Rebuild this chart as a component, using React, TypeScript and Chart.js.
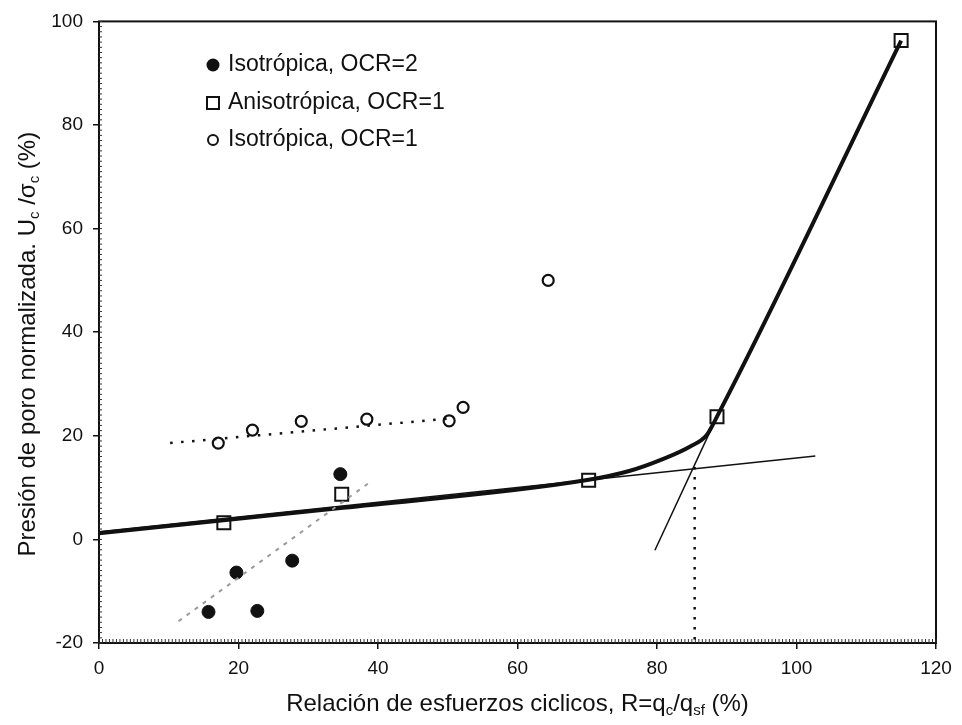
import React, { useEffect, useRef } from 'react';
import { Chart, registerables } from 'chart.js';
Chart.register(...registerables);

// ---- data ----
const isoOcr2X = [15.7, 19.7, 22.7, 27.7, 34.6];
const isoOcr2Y = [-14.0, -6.4, -13.8, -4.1, 12.6];
const anisoX = [17.9, 34.8, 70.2, 88.6, 115.0];
const anisoY = [3.2, 8.7, 11.4, 23.7, 96.3];
const isoOcr1X = [17.1, 22.0, 29.0, 38.4, 50.2, 52.2, 64.4];
const isoOcr1Y = [18.6, 21.1, 22.8, 23.2, 22.9, 25.5, 50.0];
const curveX = [0, 35, 70.2, 76, 81, 84.7, 87.1, 88.6, 115];
const curveY = [1.2, 6.1, 11.5, 13.2, 15.6, 17.9, 20.1, 23.7, 96.3];
const baseLineX = [0, 102.7];
const baseLineY = [1.5, 16.1];
const steepLineX = [79.7, 88.6];
const steepLineY = [-2.1, 23.7];
const thresholdX = [85.4, 85.4];
const thresholdY = [14.0, -20];
const ocr1TrendX = [10.2, 50];
const ocr1TrendY = [18.6, 23.3];
const ocr2TrendX = [11.4, 39.2];
const ocr2TrendY = [-15.8, 11.4];
const xMin = 0, xMax = 120, xStep = 20;
const yMin = -20, yMax = 100, yStep = 20;
const legendLabels = ['Isotrópica, OCR=2', 'Anisotrópica, OCR=1', 'Isotrópica, OCR=1'];
const xTitleParts = [
  { t: 'Relación de esfuerzos ciclicos, R=q' }, { t: 'c', sub: true }, { t: '/q' }, { t: 'sf', sub: true }, { t: ' (%)' },
];
const yTitleParts = [
  { t: 'Presión de poro normalizada. U' }, { t: 'c', sub: true }, { t: ' /σ' }, { t: 'c', sub: true }, { t: ' (%)' },
];

const zip = (xs: number[], ys: number[]) => xs.map((x, i) => ({ x, y: ys[i] }));
const FONT = '"Liberation Sans", Arial, sans-serif';

function drawRich(ctx: CanvasRenderingContext2D, parts: { t: string; sub?: boolean }[], cx: number, cy: number, size: number) {
  const widths = parts.map((p) => {
    ctx.font = `${p.sub ? Math.round(size * 0.62) : size}px ${FONT}`;
    return ctx.measureText(p.t).width;
  });
  const total = widths.reduce((a, b) => a + b, 0);
  let x = cx - total / 2;
  ctx.textBaseline = 'middle';
  ctx.textAlign = 'left';
  parts.forEach((p, i) => {
    ctx.font = `${p.sub ? Math.round(size * 0.62) : size}px ${FONT}`;
    ctx.fillText(p.t, x, p.sub ? cy + size * 0.3 : cy);
    x += widths[i];
  });
}

const framePlugin = {
  id: 'frame',
  beforeDatasetsDraw(chart: any) {
    const { ctx, chartArea: a, scales } = chart;
    ctx.save();
    ctx.strokeStyle = '#111';
    ctx.lineWidth = 2;
    ctx.strokeRect(a.left, a.top, a.right - a.left, a.bottom - a.top);
    ctx.lineWidth = 1;
    ctx.strokeStyle = '#333';
    for (let v = xMin; v <= xMax; v += 0.5) {
      const px = scales.x.getPixelForValue(v);
      ctx.beginPath();
      ctx.moveTo(px, a.bottom);
      ctx.lineTo(px, a.bottom - 4);
      ctx.stroke();
    }
    for (let v = yMin; v <= yMax; v += 1) {
      const py = scales.y.getPixelForValue(v);
      ctx.beginPath();
      ctx.moveTo(a.left, py);
      ctx.lineTo(a.left + 3, py);
      ctx.stroke();
    }
    ctx.restore();
  },
  afterDraw(chart: any) {
    const { ctx, chartArea: a } = chart;
    ctx.save();
    ctx.fillStyle = '#111';
    // axis titles
    drawRich(ctx, xTitleParts, (a.left + a.right) / 2, 704, 24);
    ctx.translate(28, (a.top + a.bottom) / 2 + 12);
    ctx.rotate(-Math.PI / 2);
    drawRich(ctx, yTitleParts, 0, 0, 24);
    ctx.restore();
    // legend
    ctx.save();
    const rows = [65, 103, 140];
    const mx = 213;
    ctx.lineWidth = 2;
    ctx.strokeStyle = '#111';
    ctx.fillStyle = '#111';
    ctx.beginPath();
    ctx.arc(mx, rows[0], 6.5, 0, Math.PI * 2);
    ctx.fill();
    ctx.fillStyle = '#fff';
    ctx.fillRect(mx - 6, rows[1] - 6, 12, 12);
    ctx.strokeRect(mx - 6, rows[1] - 6, 12, 12);
    ctx.beginPath();
    ctx.arc(mx, rows[2], 5, 0, Math.PI * 2);
    ctx.stroke();
    ctx.fillStyle = '#111';
    ctx.font = `23px ${FONT}`;
    ctx.textAlign = 'left';
    ctx.textBaseline = 'middle';
    legendLabels.forEach((l, i) => ctx.fillText(l, 228, rows[i]));
    ctx.restore();
  },
};

export default function App() {
  const ref = useRef<HTMLCanvasElement>(null);
  useEffect(() => {
    if (!ref.current) return;
    const lineDs = (xs: number[], ys: number[], extra: any) => ({
      type: 'scatter',
      data: zip(xs, ys),
      showLine: true,
      pointRadius: 0,
      pointHoverRadius: 0,
      fill: false,
      ...extra,
    });
    const chart = new Chart(ref.current, {
      type: 'scatter',
      data: {
        datasets: [
          lineDs(ocr2TrendX, ocr2TrendY, { borderColor: '#9a9a9a', borderWidth: 2, borderDash: [4, 6], label: 'trend OCR2' }),
          lineDs(ocr1TrendX, ocr1TrendY, { borderColor: '#111', borderWidth: 2.5, borderDash: [2.5, 8.5], label: 'trend OCR1' }),
          lineDs(baseLineX, baseLineY, { borderColor: '#111', borderWidth: 1.5, label: 'base' }),
          lineDs(steepLineX, steepLineY, { borderColor: '#111', borderWidth: 1.5, label: 'steep' }),
          lineDs(thresholdX, thresholdY, { borderColor: '#111', borderWidth: 2.5, borderDash: [2.5, 7.5], label: 'threshold' }),
          lineDs(curveX, curveY, { borderColor: '#111', borderWidth: 4, cubicInterpolationMode: 'monotone', label: 'curve' }),
          {
            label: legendLabels[0],
            data: zip(isoOcr2X, isoOcr2Y),
            pointStyle: 'circle',
            pointRadius: 6.5,
            backgroundColor: '#111',
            borderColor: '#111',
            borderWidth: 1,
          },
          {
            label: legendLabels[1],
            data: zip(anisoX, anisoY),
            pointStyle: 'rect',
            pointRadius: 9.2,
            backgroundColor: '#fff',
            borderColor: '#111',
            borderWidth: 2,
          },
          {
            label: legendLabels[2],
            data: zip(isoOcr1X, isoOcr1Y),
            pointStyle: 'circle',
            pointRadius: 5.5,
            backgroundColor: '#fff',
            borderColor: '#111',
            borderWidth: 2.2,
          },
        ] as any,
      },
      options: {
        animation: false,
        responsive: false,
        maintainAspectRatio: false,
        layout: { padding: { top: 21, right: 26, left: 0, bottom: 0 } },
        plugins: { legend: { display: false }, tooltip: { enabled: false }, title: { display: false } },
        scales: {
          x: {
            type: 'linear',
            min: xMin,
            max: xMax,
            ticks: { stepSize: xStep, color: '#111', font: { family: FONT, size: 19 }, padding: 8 },
            grid: { display: true, drawOnChartArea: false, drawTicks: true, tickLength: 6, color: '#111', lineWidth: 1.5 },
            border: { display: false },
            afterFit: (s: any) => { s.height = 82; },
          },
          y: {
            type: 'linear',
            min: yMin,
            max: yMax,
            ticks: { stepSize: yStep, color: '#111', font: { family: FONT, size: 19 }, padding: 10 },
            grid: { display: true, drawOnChartArea: false, drawTicks: true, tickLength: 6, color: '#111', lineWidth: 1.5 },
            border: { display: false },
            afterFit: (s: any) => { s.width = 99; },
          },
        },
      },
      plugins: [framePlugin],
    } as any);
    return () => chart.destroy();
  }, []);
  return (
    <div style={{ position: 'absolute', left: 0, top: 0, width: 962, height: 725, background: '#fff' }}>
      <canvas ref={ref} width={962} height={725} style={{ width: 962, height: 725 }} />
    </div>
  );
}
